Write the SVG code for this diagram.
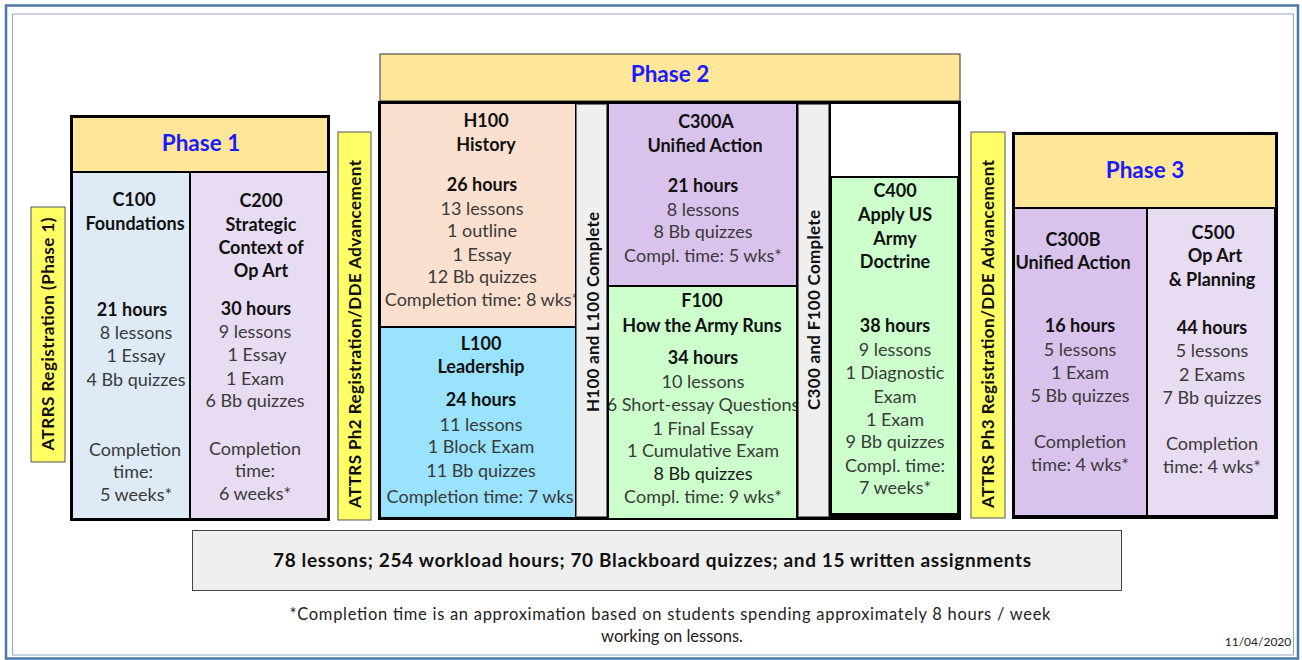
<svg xmlns="http://www.w3.org/2000/svg" width="1302" height="660" viewBox="0 0 1302 660">
<style>
text{font-family:Lato,"Liberation Sans",sans-serif;text-anchor:middle}
.t{font-size:18px;fill:#3a3a3a}
.b{font-size:18px;font-weight:bold;fill:#111}
.ph{font-size:22.5px;font-weight:bold;fill:#1a1aff}
.v{font-size:17px;font-weight:bold;fill:#111}
.hdr{fill:#FFE699}
.yel{fill:#FFFF66;stroke:#555;stroke-width:1}
.gray{fill:#EFEFEF;stroke:#777;stroke-width:0.8}
</style>
<defs>
<clipPath id="cH"><rect x="381" y="104" width="194" height="222"/></clipPath>
<clipPath id="cF"><rect x="609" y="287" width="187" height="231"/></clipPath>
</defs>
<rect width="1302" height="660" fill="#fff"/>
<g id="frame" fill="none">
<rect x="6" y="5.5" width="1292" height="653" stroke="#4B78A8" stroke-width="2.5"/>
<rect x="12.5" y="14" width="1281" height="641" stroke="#8FA8C8" stroke-width="1"/>
</g>
<g id="connectors"></g>

<g id="atrrs1">
<rect class="yel" x="31" y="207" width="34" height="255"/>
<text class="v" transform="translate(48,334) rotate(-90)" dy="6" textLength="233">ATRRS  Registration (Phase 1)</text>
</g>

<g id="phase1">
<rect x="70" y="115" width="260" height="406" fill="#000"/>
<rect class="hdr" x="73" y="118" width="254" height="53"/>
<text class="ph" x="201" y="151">Phase 1</text>
</g>
<g id="c100">
<rect x="73" y="173" width="116" height="345" fill="#DEEBF7"/>
<text class="b" x="134" y="206">C100</text>
<text class="b" x="135" y="230">Foundations</text>
<text class="b" x="132" y="316">21 hours</text>
<text class="t" x="136" y="339">8 lessons</text>
<text class="t" x="136" y="362">1 Essay</text>
<text class="t" x="136" y="386">4 Bb quizzes</text>
<text class="t" x="135" y="456">Completion</text>
<text class="t" x="133" y="478">time:</text>
<text class="t" x="136" y="501">5 weeks*</text>
</g>
<g id="c200">
<rect x="191" y="173" width="136" height="345" fill="#E8DCF2"/>
<text class="b" x="261" y="207">C200</text>
<text class="b" x="261" y="231">Strategic</text>
<text class="b" x="261" y="254">Context of</text>
<text class="b" x="261" y="277">Op Art</text>
<text class="b" x="256" y="315">30 hours</text>
<text class="t" x="255" y="338">9 lessons</text>
<text class="t" x="257" y="361">1 Essay</text>
<text class="t" x="255" y="385">1 Exam</text>
<text class="t" x="255" y="407">6 Bb quizzes</text>
<text class="t" x="255" y="455">Completion</text>
<text class="t" x="255" y="477">time:</text>
<text class="t" x="255" y="500">6 weeks*</text>
</g>

<g id="atrrs2">
<rect class="yel" x="338" y="132" width="33" height="388"/>
<text class="v" transform="translate(354.5,334) rotate(-90)" dy="6" textLength="348">ATTRS Ph2  Registration/DDE Advancement</text>
</g>

<g id="phase2">
<rect class="hdr" x="380" y="54" width="580" height="47" stroke="#333" stroke-width="1"/>
<text class="ph" x="670" y="82">Phase 2</text>
<rect x="378" y="101" width="583" height="419" fill="#000"/>
</g>
<g id="h100">
<rect x="381" y="104" width="194" height="222" fill="#FCE0CF"/>
<text class="b" x="486" y="127">H100</text>
<text class="b" x="486" y="151">History</text>
<text class="b" x="482" y="191">26 hours</text>
<text class="t" x="482" y="215">13 lessons</text>
<text class="t" x="482" y="237">1 outline</text>
<text class="t" x="482" y="261">1 Essay</text>
<text class="t" x="482" y="283">12 Bb quizzes</text>
<text class="t" x="482" y="306" clip-path="url(#cH)">Completion time: 8 wks*</text>
</g>
<g id="l100">
<rect x="381" y="328" width="194" height="189" fill="#99E3FD"/>
<text class="b" x="481" y="350">L100</text>
<text class="b" x="481" y="373">Leadership</text>
<text class="b" x="481" y="406">24 hours</text>
<text class="t" x="481" y="431">11 lessons</text>
<text class="t" x="481" y="453">1 Block Exam</text>
<text class="t" x="481" y="477">11 Bb quizzes</text>
<text class="t" x="480" y="503">Completion time: 7 wks</text>
</g>
<g id="hl-complete">
<rect class="gray" x="576.5" y="104.5" width="30" height="412"/>
<text class="v" transform="translate(592.5,312) rotate(-90)" dy="6" textLength="200">H100 and L100 Complete</text>
</g>
<g id="c300a">
<rect x="609" y="104" width="187" height="181" fill="#D9C3EC"/>
<text class="b" x="706" y="128">C300A</text>
<text class="b" x="705" y="152">Unified Action</text>
<text class="b" x="703" y="192">21 hours</text>
<text class="t" x="703" y="216">8 lessons</text>
<text class="t" x="703" y="238">8 Bb quizzes</text>
<text class="t" x="703" y="262">Compl. time: 5 wks*</text>
</g>
<g id="f100">
<rect x="609" y="287" width="187" height="231" fill="#CCFFCC"/>
<text class="b" x="702" y="307">F100</text>
<text class="b" x="702" y="332">How the Army Runs</text>
<text class="b" x="703" y="364">34 hours</text>
<text class="t" x="703" y="388">10 lessons</text>
<text class="t" x="703" y="411" clip-path="url(#cF)">6 Short-essay Questions</text>
<text class="t" x="703" y="435">1 Final Essay</text>
<text class="t" x="703" y="457">1 Cumulative Exam</text>
<text class="t" x="703" y="480" style="fill:#1a1a1a">8 Bb quizzes</text>
<text class="t" x="703" y="503">Compl. time: 9 wks*</text>
</g>
<g id="cf-complete">
<rect class="gray" x="798.5" y="104.5" width="30" height="412"/>
<text class="v" transform="translate(814,310) rotate(-90)" dy="6" textLength="200">C300 and F100 Complete</text>
</g>
<g id="blank">
<rect x="831" y="104" width="127" height="72" fill="#fff"/>
</g>
<g id="c400">
<rect x="832" y="178" width="125" height="335" fill="#CCFFCC"/>
<text class="b" x="895" y="197">C400</text>
<text class="b" x="895" y="221">Apply US</text>
<text class="b" x="895" y="245">Army</text>
<text class="b" x="895" y="268">Doctrine</text>
<text class="b" x="895" y="332">38 hours</text>
<text class="t" x="895" y="356">9 lessons</text>
<text class="t" x="895" y="379">1 Diagnostic</text>
<text class="t" x="895" y="403">Exam</text>
<text class="t" x="895" y="426">1 Exam</text>
<text class="t" x="895" y="448">9 Bb quizzes</text>
<text class="t" x="895" y="472">Compl. time:</text>
<text class="t" x="895" y="494">7 weeks*</text>
</g>

<g id="atrrs3">
<rect class="yel" x="971" y="132" width="34" height="386"/>
<text class="v" transform="translate(988,334) rotate(-90)" dy="6" textLength="348">ATTRS Ph3  Registration/DDE Advancement</text>
</g>

<g id="phase3">
<rect x="1012" y="132" width="266" height="387" fill="#000"/>
<rect class="hdr" x="1015" y="135" width="260" height="72"/>
<text class="ph" x="1145" y="178">Phase 3</text>
</g>
<g id="c300b">
<rect x="1015" y="209" width="131" height="306" fill="#D9C3EC"/>
<text class="b" x="1073" y="246">C300B</text>
<text class="b" x="1073" y="269">Unified Action</text>
<text class="b" x="1080" y="332">16 hours</text>
<text class="t" x="1080" y="356">5 lessons</text>
<text class="t" x="1080" y="379">1 Exam</text>
<text class="t" x="1080" y="402">5 Bb quizzes</text>
<text class="t" x="1080" y="448">Completion</text>
<text class="t" x="1080" y="471">time: 4 wks*</text>
</g>
<g id="c500">
<rect x="1148" y="209" width="126" height="306" fill="#E8DCF2"/>
<text class="b" x="1213" y="239">C500</text>
<text class="b" x="1215" y="262">Op Art</text>
<text class="b" x="1212" y="286">&amp; Planning</text>
<text class="b" x="1212" y="334">44 hours</text>
<text class="t" x="1212" y="357">5 lessons</text>
<text class="t" x="1212" y="381">2 Exams</text>
<text class="t" x="1212" y="404">7 Bb quizzes</text>
<text class="t" x="1212" y="450">Completion</text>
<text class="t" x="1212" y="473">time: 4 wks*</text>
</g>

<g id="summary">
<rect x="192.5" y="530.5" width="929" height="60" fill="#EFEFEF" stroke="#444" stroke-width="1"/>
<text x="652" y="567" style="font-size:19px;font-weight:bold;fill:#111" textLength="758">78 lessons;  254 workload hours;  70 Blackboard  quizzes;  and 15 written assignments</text>
</g>
<g id="footnote">
<text x="670" y="620" style="font-size:16.5px;fill:#222" textLength="761">*Completion time is an approximation based on students spending approximately 8 hours / week</text>
<text x="672" y="642" style="font-size:16.5px;fill:#222">working on lessons.</text>
<text x="1258" y="646" style="font-size:12px;fill:#222">11/04/2020</text>
</g>
</svg>
